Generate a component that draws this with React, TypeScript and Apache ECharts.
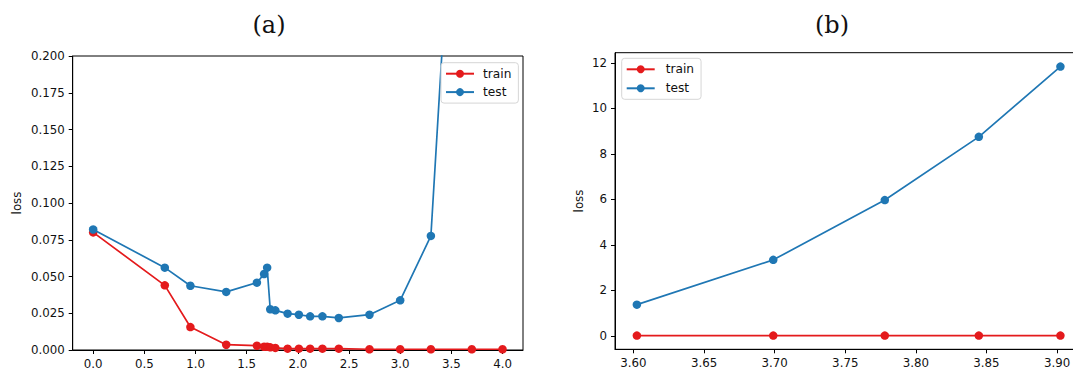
import React, { useEffect, useRef } from "react";
import * as echarts from "echarts";

// ---- Panel (a) data ----
const xA = [0, 0.70, 0.95, 1.30, 1.60, 1.67, 1.70, 1.73, 1.78, 1.90, 2.01, 2.12, 2.24, 2.40, 2.70, 3.00, 3.30, 3.70, 4.00];
const trainA = [0.080, 0.044, 0.0156, 0.0036, 0.0029, 0.0022, 0.0022, 0.0018, 0.0014, 0.0009, 0.0009, 0.0009, 0.0009, 0.0009, 0.0005, 0.0005, 0.0005, 0.0005, 0.0005];
const testA = [0.082, 0.056, 0.0437, 0.0395, 0.0458, 0.0517, 0.056, 0.0277, 0.027, 0.0247, 0.024, 0.0229, 0.0229, 0.0218, 0.024, 0.0338, 0.0776, 0.54, 1.40];
const xTicksA = [0, 0.5, 1.0, 1.5, 2.0, 2.5, 3.0, 3.5, 4.0];
const yTicksA = [0, 0.025, 0.05, 0.075, 0.1, 0.125, 0.15, 0.175, 0.2];

// ---- Panel (b) data ----
const xB = [3.6024, 3.699, 3.778, 3.8446, 3.9024];
const trainB = [0.01, 0.01, 0.01, 0.01, 0.01];
const testB = [1.37, 3.34, 5.97, 8.75, 11.84];
const xTicksB = [3.6, 3.65, 3.7, 3.75, 3.8, 3.85, 3.9];
const yTicksB = [0, 2, 4, 6, 8, 10, 12];

const RED = "#e41a1c";
const BLUE = "#1f77b4";
const FONT = "DejaVu Sans";

function pairs(xs: number[], ys: number[]) {
  return xs.map((x, i) => [x, ys[i]]);
}

export default function App() {
  const ref = useRef<HTMLDivElement>(null);
  useEffect(() => {
    document.body.style.margin = "0";
    const chart = echarts.init(ref.current!, null, { renderer: "svg" });
    const labelStyle = { color: "#111", fontFamily: FONT, fontSize: 11.8 };
    const axisCommon = (ticks: number[], digits: number, extra: any) => ({
      type: "value",
      splitLine: { show: false },
      axisLine: { show: true, onZero: false, lineStyle: { color: "#000", width: 1 } },
      axisTick: { show: true, length: 4, inside: false, lineStyle: { color: "#000", width: 1 }, customValues: ticks },
      axisLabel: { ...labelStyle, margin: 8, customValues: ticks, formatter: (v: number) => v.toFixed(digits) },
      ...extra,
    });
    const lineSeries = (name: string, color: string, data: number[][], idx: number, z: number) => ({
      type: "line",
      name,
      data,
      xAxisIndex: idx,
      yAxisIndex: idx,
      symbol: "circle",
      symbolSize: 8.5,
      showSymbol: true,
      clip: true,
      z,
      lineStyle: { color, width: 1.7 },
      itemStyle: { color },
      emphasis: { disabled: true },
    });
    const legendCommon = {
      orient: "vertical",
      data: ["train", "test"],
      selectedMode: false,
      backgroundColor: "rgba(255,255,255,0.85)",
      borderColor: "#d6d6d6",
      borderWidth: 1,
      borderRadius: 3,
      itemWidth: 28,
      itemHeight: 10,
      textStyle: { color: "#111", fontFamily: FONT, fontSize: 12.2, lineHeight: 14, padding: [0, 0, 0, 4] },
    };
    chart.setOption({
      animation: false,
      backgroundColor: "#fff",
      title: [
        { text: "(a)", left: 264, top: 8, textAlign: "center", textStyle: { fontFamily: "DejaVu Serif", fontWeight: "normal", fontSize: 24, color: "#111" } },
        { text: "(b)", left: 827, top: 8, textAlign: "center", textStyle: { fontFamily: "DejaVu Serif", fontWeight: "normal", fontSize: 24, color: "#111" } },
      ],
      grid: [
        { left: 72.7, top: 56, width: 450.3, height: 294, show: true, borderColor: "#000", borderWidth: 1, outerBoundsMode: "none", containLabel: false },
        { left: 615, top: 52.7, width: 469, height: 296.6, show: true, borderColor: "#000", borderWidth: 1, outerBoundsMode: "none", containLabel: false },
      ],
      xAxis: [
        axisCommon(xTicksA, 1, { gridIndex: 0, min: -0.2, max: 4.2 }),
        axisCommon(xTicksB, 2, { gridIndex: 1, min: 3.5869, max: 3.9191 }),
      ],
      yAxis: [
        axisCommon(yTicksA, 3, {
          gridIndex: 0, min: 0, max: 0.2,
          name: "loss", nameLocation: "middle", nameGap: 50, nameRotate: 90,
          nameTextStyle: labelStyle,
        }),
        axisCommon(yTicksB, 0, {
          gridIndex: 1, min: -0.593, max: 12.45,
          name: "loss", nameLocation: "middle", nameGap: 30, nameRotate: 90,
          nameTextStyle: labelStyle,
        }),
      ],
      legend: [
        { ...legendCommon, left: 441, top: 62.7, padding: [4, 7, 4, 4], itemGap: 4.4 },
        { ...legendCommon, left: 621.7, top: 58.3, padding: [4, 7, 4, 4], itemGap: 5, textStyle: { ...legendCommon.textStyle, padding: [0, 0, 0, 6] } },
      ],
      series: [
        lineSeries("train", RED, pairs(xA, trainA), 0, 2),
        lineSeries("test", BLUE, pairs(xA, testA), 0, 3),
        lineSeries("train", RED, pairs(xB, trainB), 1, 2),
        lineSeries("test", BLUE, pairs(xB, testB), 1, 3),
      ],
    });
    return () => chart.dispose();
  }, []);
  return (
    <div
      ref={ref}
      style={{ position: "fixed", left: 0, top: 0, width: 1073, height: 371 }}
    />
  );
}
